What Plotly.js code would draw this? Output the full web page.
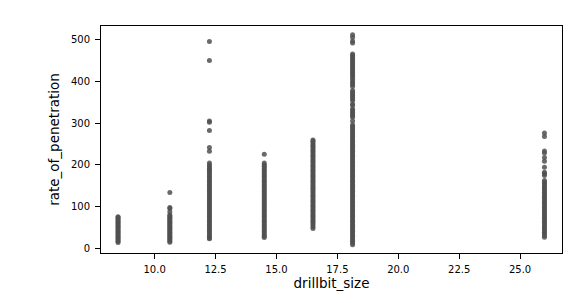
<!DOCTYPE html>
<html>
<head>
<meta charset="utf-8">
<script src="https://cdn.plot.ly/plotly-3.0.1.min.js"></script>
<style>html,body{margin:0;padding:0;background:#fff;}#chart{width:586px;height:303px;}</style>
</head>
<body>
<div id="chart"></div>
<script>
// drillbit sizes (x categories)
var drillbitSizes = [8.5, 10.625, 12.25, 14.5, 16.5, 18.125, 26];

// rate_of_penetration readings per drillbit size
var rop_8_5 = [13,16,19,22,25,28,31,34,37,40,43,46,49,52,55,58,61,64,67,70,73,75];
var rop_10_625 = [133,97,95,87,80,77,74,71,68,65,62,59,56,53,50,47,44,41,38,35,32,29,26,23,20,17,14];
var rop_12_25 = [496,450,305,302,282,241,232,204,199,195,191,188,184,180,176,172,168,164,160,156,152,148,144,140,136,132,128,124,120,116,112,108,104,100,96,92,88,84,80,76,72,68,64,60,56,52,48,44,40,36,32,28,24,22];
var rop_14_5 = [225,204,200,196,192,188,184,180,176,172,168,164,160,156,152,148,144,140,136,132,128,124,120,116,112,108,104,100,96,92,88,84,80,76,72,68,64,60,56,52,48,44,40,36,32,28,25];
var rop_16_5 = [259,256,252,248,244,240,236,232,228,224,220,216,212,208,204,200,196,192,188,184,180,176,172,168,164,160,156,152,148,144,141,136,132,128,124,120,116,112,108,104,100,96,92,88,84,80,76,72,68,64,60,56,51,47];
var rop_18_125 = [512,506,497,492,466,462,458,454,450,446,442,438,434,430,426,422,418,414,410,405,400,396,392,388,378,374,370,366,362,358,354,346,342,334,330,326,322,318,314,305,296,292,288,
  284,280,276,272,268,264,260,256,252,248,244,240,236,232,228,224,220,216,212,208,204,200,196,192,188,184,180,176,172,168,164,160,156,152,148,144,140,136,132,128,124,120,116,112,108,104,100,96,92,88,84,80,76,72,68,64,60,56,52,48,44,40,36,32,28,24,20,16,12,8];
var rop_26 = [276,268,233,228,217,208,194,182,178,174,162,158,154,150,146,142,138,134,130,126,122,118,114,110,106,102,98,94,90,86,82,78,74,70,66,62,58,54,50,46,42,38,34,30,26];

var xTickVals = [10, 12.5, 15, 17.5, 20, 22.5, 25];
var xTickText = ["10.0", "12.5", "15.0", "17.5", "20.0", "22.5", "25.0"];
var yTickVals = [0, 100, 200, 300, 400, 500];
var yTickText = ["0", "100", "200", "300", "400", "500"];

var ropBySize = [rop_8_5, rop_10_625, rop_12_25, rop_14_5, rop_16_5, rop_18_125, rop_26];
var xs = [], ys = [];
drillbitSizes.forEach(function (s, i) {
  ropBySize[i].forEach(function (v) { xs.push(s); ys.push(v); });
});

var trace = {
  x: xs, y: ys, type: 'scatter', mode: 'markers',
  marker: { color: 'rgba(80,80,80,0.85)', size: 5, line: { width: 0 } },
  hoverinfo: 'x+y'
};

var font = { family: 'DejaVu Sans, sans-serif', color: '#000' };
var layout = {
  width: 586, height: 303,
  margin: { l: 101, r: 24, t: 26, b: 50, pad: 0 },
  paper_bgcolor: '#fff', plot_bgcolor: '#fff',
  showlegend: false,
  font: font,
  xaxis: {
    range: [7.8, 26.72],
    tickmode: 'array', tickvals: xTickVals, ticktext: xTickText,
    ticks: 'outside', ticklen: 5, tickwidth: 1, tickcolor: '#000',
    ticklabelstandoff: 2,
    showline: true, mirror: true, linecolor: '#000', linewidth: 1,
    showgrid: false, zeroline: false,
    tickfont: { family: 'DejaVu Sans, sans-serif', size: 10, color: '#000' },
    title: { text: 'drillbit_size', font: { family: 'DejaVu Sans, sans-serif', size: 13.5, color: '#000' }, standoff: 3 },
    automargin: false
  },
  yaxis: {
    range: [-12, 533],
    tickmode: 'array', tickvals: yTickVals, ticktext: yTickText,
    ticks: 'outside', ticklen: 5, tickwidth: 1, tickcolor: '#000',
    ticklabelstandoff: 3,
    showline: true, mirror: true, linecolor: '#000', linewidth: 1,
    showgrid: false, zeroline: false,
    tickfont: { family: 'DejaVu Sans, sans-serif', size: 10, color: '#000' },
    title: { text: 'rate_of_penetration', font: { family: 'DejaVu Sans, sans-serif', size: 13.5, color: '#000' }, standoff: 8 },
    automargin: false
  }
};

Plotly.newPlot('chart', [trace], layout, { displayModeBar: false, staticPlot: true });
</script>
</body>
</html>
